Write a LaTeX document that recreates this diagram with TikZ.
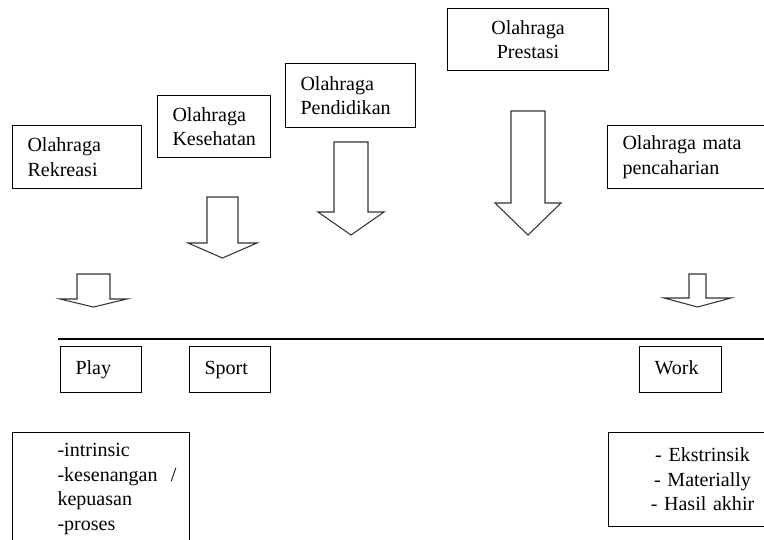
\documentclass[tikz,border=0pt]{standalone}
\usepackage{fontspec}
\setmainfont{Liberation Serif}
\begin{document}
\begin{tikzpicture}[x=0.02cm, y=-0.02cm, font=\fontsize{11.4}{14}\selectfont,
  box/.style={draw, line width=0.6pt, anchor=north west, inner xsep=0.3cm, inner ysep=0pt, align=left},
  fatarrow/.style={draw=black!80, line width=0.6pt, fill=white, line join=miter}]
  \useasboundingbox (0,0) rectangle (764,539);
  % kinds of sport
  \node[box, text width=1.98cm, minimum height=1.26cm] (rekreasi) at (12,125) {Olahraga\\Rekreasi};
  \node[box, text width=1.66cm, minimum height=1.24cm] (kesehatan) at (157,95) {Olahraga\\Kesehatan};
  \node[box, text width=2.00cm, minimum height=1.28cm] (pendidikan) at (285,63) {Olahraga\\Pendidikan};
  \node[box, text width=2.62cm, minimum height=1.24cm, align=center] (prestasi) at (447,8) {Olahraga\\Prestasi};
  \node[box, text width=3.40cm, minimum height=1.26cm] (mata) at (607,125) {Olahraga mata\\pencaharian};
  % block arrows
  \foreach \cx/\sw/\hw/\ay/\ny/\ty in {93.5/16.5/33.5/274/299/307, 222.5/15.5/34.5/197/243/258,
      351/17/33/142/212/235, 528/17/33/111/203/235, 697.5/8.5/33.5/274/298/307}
    \draw[fatarrow] ({\cx-\sw},\ay) -- ({\cx+\sw},\ay) -- ({\cx+\sw},\ny) -- ({\cx+\hw},\ny)
      -- (\cx,\ty) -- ({\cx-\hw},\ny) -- ({\cx-\sw},\ny) -- cycle;
  % divider
  \coordinate (lineL) at (58,339);
  \coordinate (lineR) at (770,339);
  \draw[line width=0.6pt] (lineL) -- (lineR);
  % play / sport / work
  \node[box, text width=1.02cm, minimum height=0.92cm] (play) at (60,346) {\strut Play};
  \node[box, text width=1.02cm, minimum height=0.92cm] (sport) at (189,346) {\strut Sport};
  \node[box, text width=1.04cm, minimum height=0.92cm] (work) at (639,346) {\strut Work};
  % traits
  \node[box, inner xsep=0pt, text width=3.54cm, minimum height=2.26cm] (intrinsik) at (12,432)
    {\leftskip=0.9cm -intrinsic\\-kesenangan~~/\\kepuasan\\-proses\par};
  \node[box, text width=3.16cm, minimum height=1.88cm, align=center] (ekstrinsik) at (608,432)
    {- Ekstrinsik\\- Materially\\- Hasil akhir};
\end{tikzpicture}
\end{document}
